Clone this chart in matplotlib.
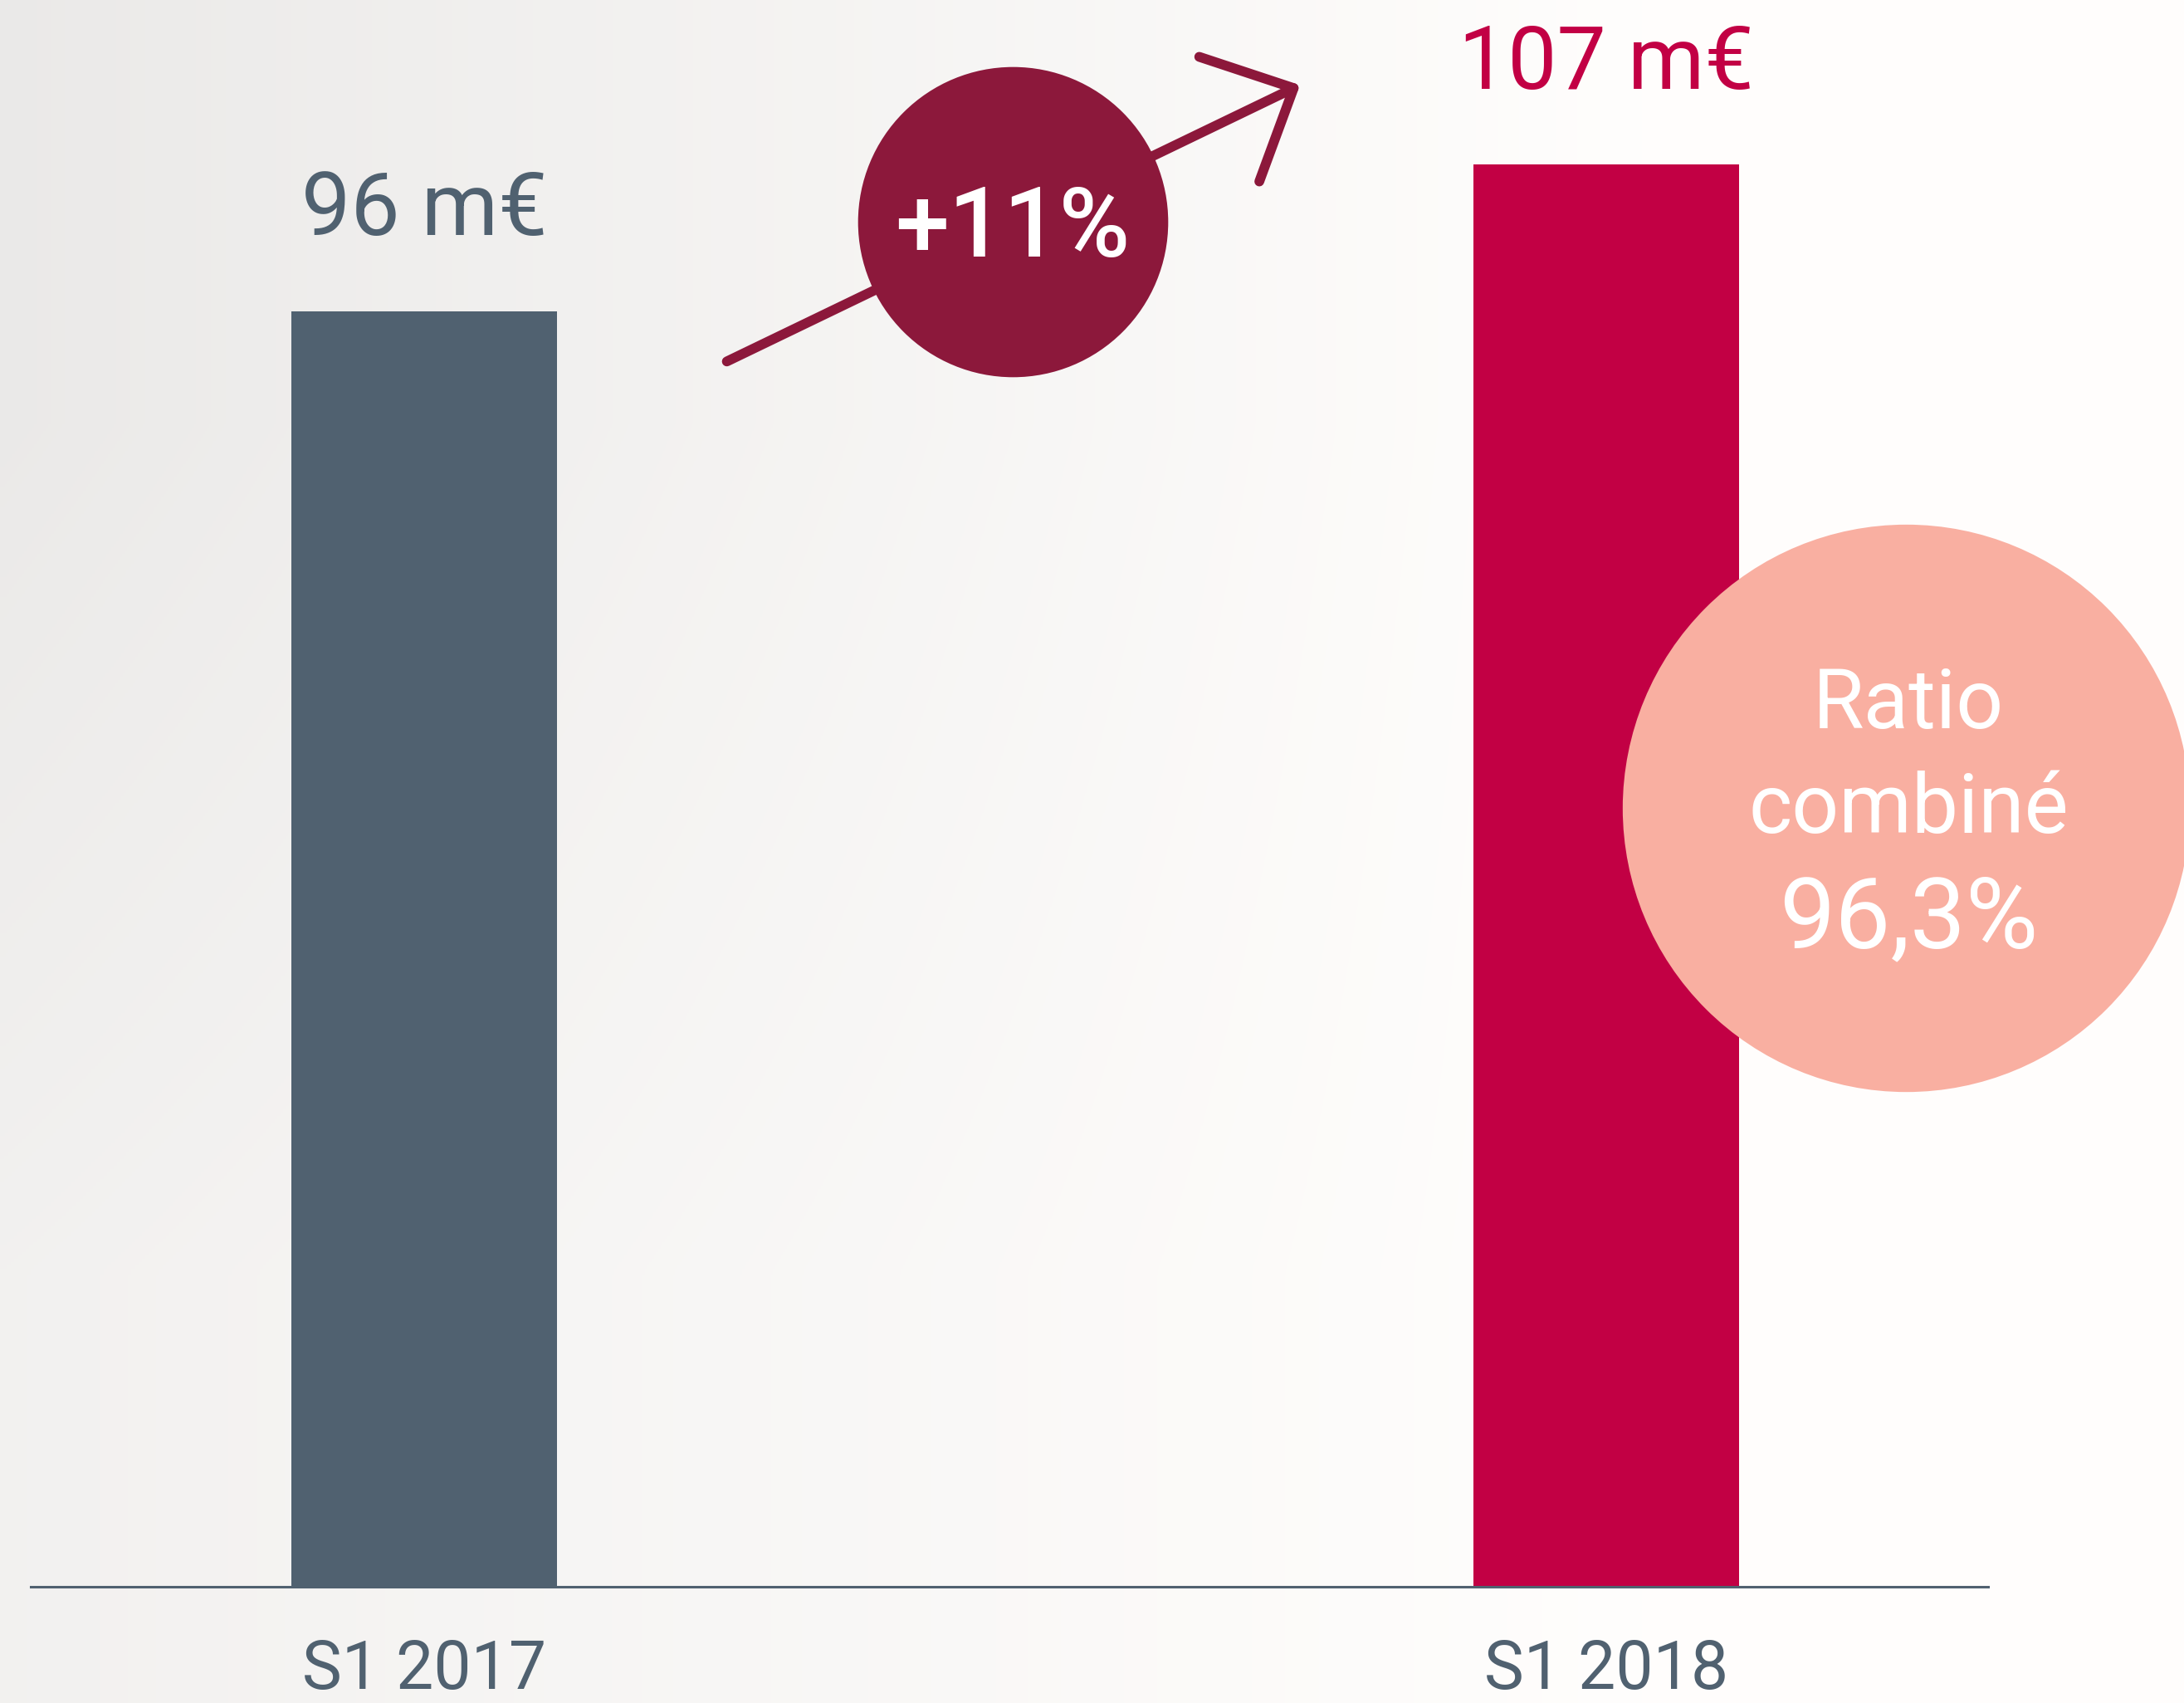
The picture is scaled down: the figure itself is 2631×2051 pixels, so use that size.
# bar chart: S1 2017 vs S1 2018 with growth bubble and combined ratio bubble

import numpy as np
import matplotlib
matplotlib.use('Agg')
import matplotlib.pyplot as plt
from matplotlib.patches import FancyArrowPatch

# data
periods = ['S1 2017', 'S1 2018']
values = [96, 107]
value_labels = ['96 m€', '107 m€']
growth_label = '+11%'
ratio_lines = ['Ratio', 'combiné', '96,3%']

# colours
slate = '#506170'
crimson = '#C20044'
wine = '#8C183B'
salmon = '#F9AFA1'

fig = plt.figure(figsize=(26.31, 20.51), dpi=100)
ax = fig.add_axes([0, 0, 1, 1])
ax.set_xlim(-0.359, 1.489)
ax.set_ylim(-8.75, 119.4)
ax.axis('off')

# faint background, greyish on the left fading to white
grad = np.linspace(0, 1, 256)
bg = np.empty((2, 256, 3))
for i, (a, b) in enumerate([(0.92, 1.0), (0.95, 1.0)]):
    shade = np.clip(a + (b - a) * grad / 0.75, 0, 1)
    bg[i] = np.stack([shade, shade * 0.995, shade * 0.99], axis=1)
ax.imshow(bg, extent=[0, 1, 0, 1], transform=ax.transAxes, aspect='auto',
          zorder=0, interpolation='bilinear')

# bars
x = np.arange(len(periods))
ax.bar(x, values, width=0.2247, color=[slate, crimson], zorder=2)

# baseline
ax.plot([-0.333, 1.323], [0, 0], color=slate, linewidth=2.2, zorder=3)

# value labels above bars
for xi, v, lab, c in zip(x, values, value_labels, [slate, crimson]):
    ax.text(xi, v + 5.7, lab, ha='center', va='baseline', fontsize=76,
            color=c, family='Roboto', fontweight='normal', zorder=4)

# period labels under the baseline
for xi, lab in zip(x, periods):
    ax.text(xi, -7.7, lab, ha='center', va='baseline', fontsize=58,
            color=slate, family='Roboto', fontweight='normal', zorder=4)

# growth arrow behind the bubble
arrow = FancyArrowPatch((0.256, 92.2), (0.741, 113.0),
                        arrowstyle='->, head_length=62, head_width=60',
                        mutation_scale=1, shrinkA=0, shrinkB=0,
                        color=wine, linewidth=8.5, capstyle='round',
                        joinstyle='round', zorder=4)
ax.add_patch(arrow)

# growth bubble
gx, gy = 0.498, 102.7
ax.scatter([gx], [gy], s=269 ** 2, color=wine, linewidths=0, zorder=5)
ax.text(gx, gy - 2.6, growth_label, ha='center', va='baseline', fontsize=84,
        color='white', family='Roboto', fontweight='medium', zorder=6)

# combined ratio bubble
rx, ry = 1.254, 58.6
ax.scatter([rx], [ry], s=492 ** 2, color=salmon, linewidths=0, zorder=5)
for lab, yb, fs in zip(ratio_lines, [64.6, 56.7, 48.1], [72, 72, 86]):
    ax.text(rx + 0.002, yb, lab, ha='center', va='baseline', fontsize=fs,
            color='white', family='Roboto', zorder=6)

fig.savefig('out.png', dpi=100)
